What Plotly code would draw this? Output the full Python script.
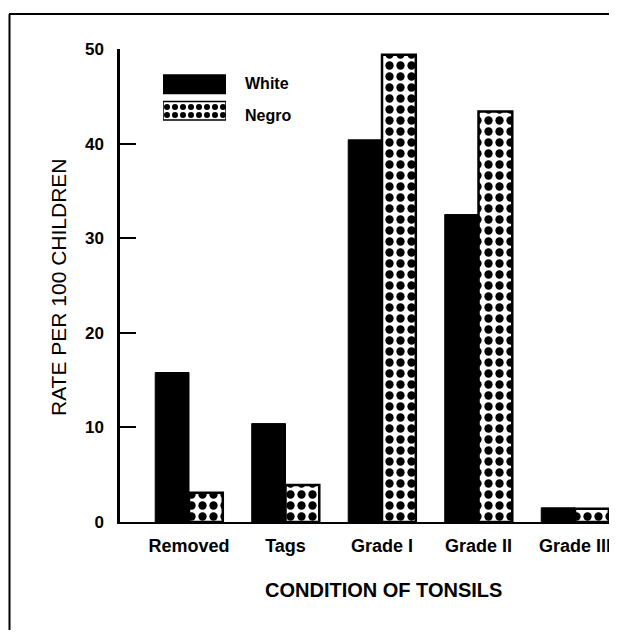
import plotly.graph_objects as go

categories = ["Removed", "Tags", "Grade I", "Grade II", "Grade III"]
white_rate = [15.8, 10.4, 40.4, 32.5, 1.5]
negro_rate = [3.1, 3.9, 49.4, 43.4, 1.4]
y_ticks = [0, 10, 20, 30, 40, 50]
legend_names = ["Negro", "White"]
legend_len = [1]

FONT = "Liberation Sans, Arial, sans-serif"

dot_pattern = dict(shape=".", fgcolor="black", bgcolor="white",
                   fillmode="replace", fgopacity=1, size=11, solidity=0.45)

fig = go.Figure()
fig.add_trace(go.Bar(
    x=categories, y=white_rate, name="White",
    marker=dict(color="black", line=dict(color="black", width=1)),
    showlegend=False,
))
fig.add_trace(go.Bar(
    x=categories, y=negro_rate, name="Negro",
    marker=dict(color="white", line=dict(color="black", width=2.5),
                pattern=dot_pattern),
    showlegend=False,
))
# legend swatches
fig.add_trace(go.Bar(
    y=[legend_names[1]], x=legend_len, orientation="h", offsetgroup="leg",
    xaxis="x2", yaxis="y2", showlegend=False, hoverinfo="skip",
    marker=dict(color="black", line=dict(color="black", width=1.5)),
))
fig.add_trace(go.Bar(
    y=[legend_names[0]], x=legend_len, orientation="h", offsetgroup="leg",
    xaxis="x2", yaxis="y2", showlegend=False, hoverinfo="skip",
    marker=dict(color="white", line=dict(color="black", width=1.5),
                pattern=dict(dot_pattern, size=8)),
))

# page coordinates (the html body adds an 8px offset)
def px_x(px):
    return (px - 120) / 497.0

def px_y(py):
    return (522 - py) / 473.0

fig.update_layout(
    width=609, height=627,
    margin=dict(l=112, r=0, t=41, b=113),
    paper_bgcolor="white", plot_bgcolor="white",
    barmode="group", bargap=0.3, bargroupgap=0,
    font=dict(family=FONT, color="black"),
    xaxis=dict(
        range=[-0.715, 4.435], showgrid=False, zeroline=False,
        showline=True, linecolor="black", linewidth=2,
        ticks="", ticklabelstandoff=6,
        tickfont=dict(size=18, family=FONT, weight="bold"),
        fixedrange=True,
    ),
    yaxis=dict(
        range=[0, 50], tickvals=y_ticks, showgrid=False, zeroline=False,
        showline=True, linecolor="black", linewidth=2.5,
        ticks="inside", ticklen=16, tickwidth=2, tickcolor="black",
        ticklabelstandoff=10,
        tickfont=dict(size=17, family=FONT, weight="bold"),
    ),
    xaxis2=dict(domain=[px_x(163), px_x(226)], range=[0, 1], visible=False,
                anchor="y2"),
    yaxis2=dict(domain=[px_y(124), px_y(71)], visible=False, anchor="x2",
                categoryorder="array", categoryarray=legend_names),
    annotations=[
        dict(text="White", x=px_x(243), y=px_y(84), xref="paper", yref="paper",
             xanchor="left", yanchor="middle", showarrow=False,
             font=dict(size=16, family=FONT, weight="bold")),
        dict(text="Negro", x=px_x(243), y=px_y(115), xref="paper", yref="paper",
             xanchor="left", yanchor="middle", showarrow=False,
             font=dict(size=16, family=FONT, weight="bold")),
        dict(text="RATE PER 100 CHILDREN", x=px_x(58), y=px_y(287),
             xref="paper", yref="paper", textangle=-90,
             xanchor="center", yanchor="middle", showarrow=False,
             font=dict(size=21, family=FONT)),
        dict(text="CONDITION OF TONSILS", x=px_x(383), y=px_y(590),
             xref="paper", yref="paper",
             xanchor="center", yanchor="middle", showarrow=False,
             font=dict(size=20, family=FONT, weight="bold")),
    ],
    shapes=[
        dict(type="line", xref="paper", yref="paper",
             x0=px_x(9.5), x1=px_x(9.5), y0=px_y(14), y1=px_y(630),
             line=dict(color="black", width=2)),
        dict(type="line", xref="paper", yref="paper",
             x0=px_x(9), x1=px_x(617), y0=px_y(14), y1=px_y(14),
             line=dict(color="black", width=2)),
    ],
)

fig.write_html("out.html")
